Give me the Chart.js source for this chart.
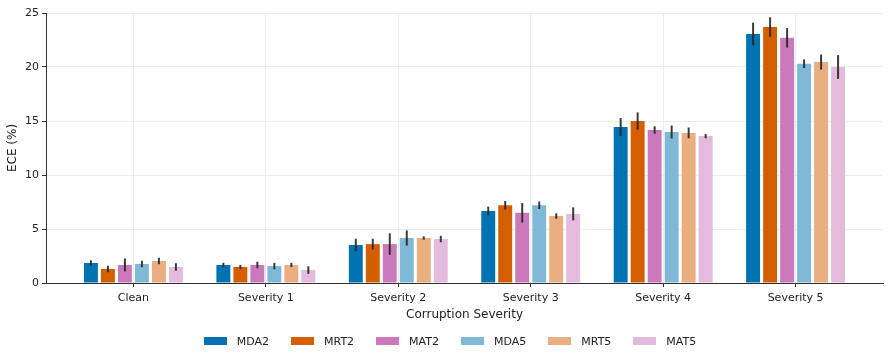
<!DOCTYPE html>
<html>
<head>
<meta charset="utf-8">
<script src="https://cdn.jsdelivr.net/npm/chart.js@4"></script>
<style>
  html, body { margin: 0; padding: 0; background: #fff; }
  #wrap { position: relative; width: 890px; height: 360px; }
  #legend {
    position: absolute; left: 0; width: 900px; top: 334px; height: 14px;
    display: flex; justify-content: center; align-items: center; gap: 22px;
    font-family: 'DejaVu Sans', sans-serif; font-size: 11px; color: #222;
  }
  .item { display: flex; align-items: center; }
  .swatch { width: 23px; height: 8px; margin-right: 10px; }
</style>
</head>
<body>
<div id="wrap">
  <canvas id="eceChart"></canvas>
  <div id="legend"></div>
</div>
<script>
// categories and series
const severities = ['Clean', 'Severity 1', 'Severity 2', 'Severity 3', 'Severity 4', 'Severity 5'];
const seriesNames = ['MDA2', 'MRT2', 'MAT2', 'MDA5', 'MRT5', 'MAT5'];
const seriesColors = ['#0173b2', '#d55e00', '#cc78bc', '#80b9d8', '#eaae80', '#e5bbdd'];

// mean ECE (%)
const mda2 = [1.85, 1.67, 3.52, 6.67, 14.44, 23.05];
const mrt2 = [1.30, 1.48, 3.60, 7.20, 15.00, 23.70];
const mat2 = [1.67, 1.67, 3.60, 6.50, 14.17, 22.70];
const mda5 = [1.76, 1.57, 4.17, 7.20, 13.98, 20.30];
const mrt5 = [2.04, 1.67, 4.17, 6.20, 13.90, 20.46];
const mat5 = [1.48, 1.20, 4.07, 6.40, 13.60, 20.00];

// error (half length of bar)
const mda2Err = [0.25, 0.20, 0.58, 0.40, 0.83, 1.05];
const mrt2Err = [0.30, 0.20, 0.50, 0.40, 0.80, 0.90];
const mat2Err = [0.60, 0.30, 1.00, 0.90, 0.35, 0.90];
const mda5Err = [0.30, 0.30, 0.70, 0.35, 0.60, 0.40];
const mrt5Err = [0.30, 0.20, 0.15, 0.25, 0.50, 0.70];
const mat5Err = [0.35, 0.35, 0.30, 0.60, 0.20, 1.10];

const yTicks = [0, 5, 10, 15, 20, 25];

const means = [mda2, mrt2, mat2, mda5, mrt5, mat5];
const errs = [mda2Err, mrt2Err, mat2Err, mda5Err, mrt5Err, mat5Err];

const FONT = "'DejaVu Sans', sans-serif";

// draws vertical error bars on top of each bar
const errorBars = {
    id: 'errorBars',
    afterDatasetsDraw(chart) {
        const ctx = chart.ctx;
        const y = chart.scales.y;
        ctx.save();
        ctx.strokeStyle = 'rgba(38,38,38,0.9)';
        ctx.lineWidth = 2;
        chart.data.datasets.forEach((ds, di) => {
            const meta = chart.getDatasetMeta(di);
            meta.data.forEach((bar, i) => {
                const v = ds.data[i].y;
                const e = errs[di][i];
                ctx.beginPath();
                ctx.moveTo(bar.x, y.getPixelForValue(v - e));
                ctx.lineTo(bar.x, y.getPixelForValue(v + e));
                ctx.stroke();
            });
        });
        ctx.restore();
    }
};

new Chart(document.getElementById('eceChart'), {
    type: 'bar',
    data: {
        datasets: seriesNames.map((name, k) => ({
            label: name,
            data: means[k].map((v, i) => ({ x: i, y: v })),
            backgroundColor: seriesColors[k],
            borderWidth: 0,
            categoryPercentage: 0.77,
            barPercentage: 0.82
        }))
    },
    options: {
        responsive: true,
        maintainAspectRatio: false,
        animation: false,
        layout: { padding: { top: 13, right: 7, left: 0, bottom: 38 } },
        plugins: {
            tooltip: { enabled: false },
            legend: { display: false }
        },
        scales: {
            x: {
                type: 'linear',
                offset: false,
                min: -0.66,
                max: 5.66,
                afterBuildTicks: axis => { axis.ticks = severities.map((_, i) => ({ value: i })); },
                afterFit: axis => { axis.height = 39; },
                grid: { color: '#ececec', tickColor: '#333', tickLength: 4, offset: false },
                border: { color: '#333', width: 1 },
                ticks: {
                    color: '#222',
                    font: { family: FONT, size: 11 },
                    padding: 5,
                    maxRotation: 0,
                    callback: v => severities[v]
                },
                title: {
                    display: true,
                    text: 'Corruption Severity',
                    color: '#222',
                    font: { family: FONT, size: 12 },
                    padding: { top: 1, bottom: 0 }
                }
            },
            y: {
                min: 0,
                max: 25,
                afterBuildTicks: axis => { axis.ticks = yTicks.map(v => ({ value: v })); },
                afterFit: axis => { axis.width = 46; },
                grid: { color: '#ececec', tickColor: '#333', tickLength: 4 },
                border: { color: '#333', width: 1 },
                ticks: {
                    color: '#222',
                    font: { family: FONT, size: 11 },
                    padding: 3
                },
                title: {
                    display: true,
                    text: 'ECE (%)',
                    color: '#222',
                    font: { family: FONT, size: 12 },
                    padding: { top: 6, bottom: 0 }
                }
            }
        }
    },
    plugins: [errorBars]
});

// legend built from the same series arrays
document.getElementById('legend').innerHTML = seriesNames.map((name, k) =>
    `<div class="item"><span class="swatch" style="background:${seriesColors[k]}"></span>${name}</div>`
).join('');
</script>
</body>
</html>
